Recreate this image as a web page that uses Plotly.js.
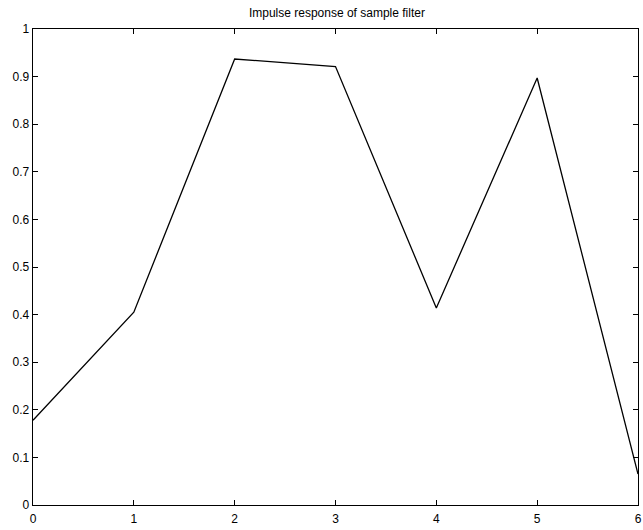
<!DOCTYPE html>
<html>
<head>
<meta charset="utf-8">
<script src="https://cdn.plot.ly/plotly-3.0.1.min.js"></script>
<style>html,body{margin:0;padding:0;background:#fff;}#chart{width:643px;height:530px;}</style>
</head>
<body>
<div id="chart"></div>
<script>
const sampleIndex = [0, 1, 2, 3, 4, 5, 6];
const impulseResponse = [0.178, 0.405, 0.937, 0.921, 0.414, 0.897, 0.065];
const xTickVals = [0, 1, 2, 3, 4, 5, 6];
const yTickVals = [0, 0.1, 0.2, 0.3, 0.4, 0.5, 0.6, 0.7, 0.8, 0.9, 1];
const yTickText = ['0', '0.1', '0.2', '0.3', '0.4', '0.5', '0.6', '0.7', '0.8', '0.9', '1'];
const chartTitle = 'Impulse response of sample filter';

const trace = {
  x: sampleIndex,
  y: impulseResponse,
  type: 'scatter',
  mode: 'lines',
  line: {color: '#000', width: 1.3},
  hoverinfo: 'none'
};

const axisCommon = {
  showgrid: false,
  zeroline: false,
  showline: true,
  linecolor: '#000',
  linewidth: 1.3,
  mirror: 'ticks',
  ticks: 'inside',
  ticklen: 5,
  tickcolor: '#000',
  tickwidth: 1,
  tickfont: {family: 'Liberation Sans, Arial, sans-serif', size: 12, color: '#000'}
};

const layout = {
  width: 643,
  height: 530,
  margin: {l: 33, r: 5, t: 29, b: 25, pad: 0},
  paper_bgcolor: '#fff',
  plot_bgcolor: '#fff',
  showlegend: false,
  title: {
    text: chartTitle,
    font: {family: 'Liberation Sans, Arial, sans-serif', size: 12, color: '#000'},
    x: 0.524, xanchor: 'center',
    y: 0.975, yanchor: 'middle'
  },
  xaxis: Object.assign({}, axisCommon, {
    range: [0, 6],
    tickvals: xTickVals,
    ticktext: xTickVals.map(String),
    ticklabelstandoff: 2
  }),
  yaxis: Object.assign({}, axisCommon, {
    range: [0, 1],
    tickvals: yTickVals,
    ticktext: yTickText
  })
};

Plotly.newPlot('chart', [trace], layout, {displayModeBar: false, staticPlot: true});
</script>
</body>
</html>
